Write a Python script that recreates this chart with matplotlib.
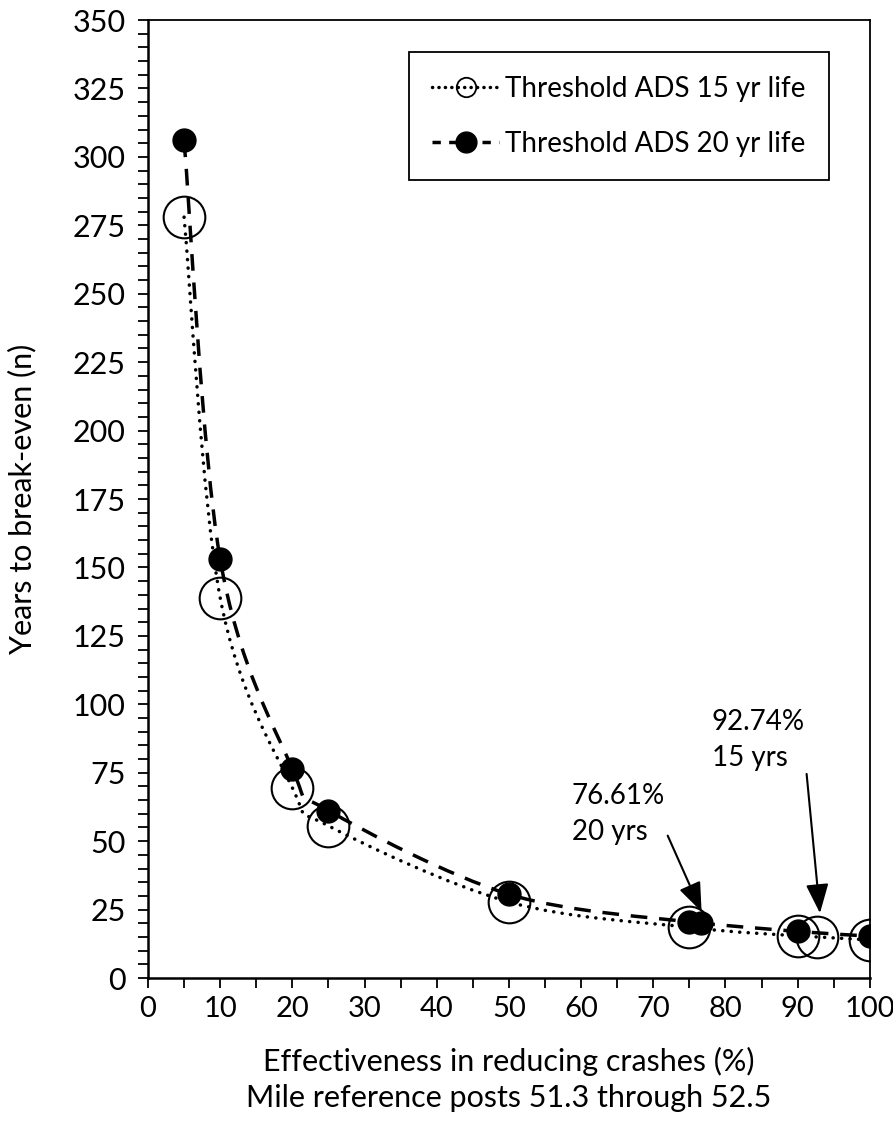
import numpy as np
import matplotlib.pyplot as plt
from matplotlib.path import Path
from matplotlib.patches import PathPatch
from matplotlib.lines import Line2D
from matplotlib.ticker import MultipleLocator

plt.rcParams['font.family'] = ['Lato', 'DejaVu Sans']
plt.rcParams['font.size'] = 22

# data
eff_15 = [5, 10, 20, 25, 50, 75, 90, 92.74, 100]
yrs_15 = [278, 139, 69.5, 55.6, 27.8, 18.5, 15.4, 15.0, 13.9]
eff_20 = [5, 10, 20, 25, 50, 75, 76.61, 90, 100]
yrs_20 = [306, 153, 76.5, 61.2, 30.6, 20.4, 20.0, 17.0, 15.3]

label_15 = 'Threshold ADS 15 yr life'
label_20 = 'Threshold ADS 20 yr life'


def smooth_path(xs, ys):
    """Bezier path through the points, like a spreadsheet smoothed line"""
    p = np.column_stack([xs, ys]).astype(float)
    n = len(p)
    verts = [p[0]]
    codes = [Path.MOVETO]
    for i in range(n - 1):
        p0 = p[i - 1] if i > 0 else p[i]
        p3 = p[i + 2] if i + 2 < n else p[i + 1]
        c1 = p[i] + (p[i + 1] - p0) / 6
        c2 = p[i + 1] - (p3 - p[i]) / 6
        verts += [c1, c2, p[i + 1]]
        codes += [Path.CURVE4] * 3
    return Path(verts, codes)


fig = plt.figure(figsize=(8.93, 11.33), dpi=100)
ax = fig.add_axes([0.1657, 0.1368, 0.8083, 0.8455])

ax.add_patch(PathPatch(smooth_path(eff_15, yrs_15), fill=False, color='black',
                       lw=2.5, ls=(0, (0.05, 2.4)), capstyle='round', zorder=2))
ax.add_patch(PathPatch(smooth_path(eff_20, yrs_20), fill=False, color='black',
                       lw=2.5, ls=(0, (4.8, 3.4)), capstyle='butt', zorder=3))

ax.plot(eff_15, yrs_15, ls='none', marker='o', ms=30, mfc='none', mec='black',
        mew=1.5, zorder=4)
ax.plot(eff_20, yrs_20, ls='none', marker='o', ms=16.5, mfc='black', mec='black',
        zorder=5)

ax.set_xlim(0, 100)
ax.set_ylim(0, 350)
ax.xaxis.set_major_locator(MultipleLocator(10))
ax.xaxis.set_minor_locator(MultipleLocator(5))
ax.yaxis.set_major_locator(MultipleLocator(25))
ax.yaxis.set_minor_locator(MultipleLocator(5))
ax.tick_params(which='both', direction='out', length=7, width=1.3)
ax.tick_params(axis='x', pad=6, labelsize=21)
ax.tick_params(axis='y', pad=9)
for s in ax.spines.values():
    s.set_linewidth(1.3)
ax.spines['left'].set_linewidth(1.8)
ax.spines['bottom'].set_linewidth(1.8)

ax.set_xlabel('Effectiveness in reducing crashes (%)\nMile reference posts 51.3 through 52.5',
              labelpad=18, linespacing=1.35)
ax.set_ylabel('Years to break-even (n)', labelpad=26)

# annotations
arrow = dict(arrowstyle='-|>,head_length=0.9,head_width=0.35', color='black',
             lw=1.5, shrinkA=0, shrinkB=0, relpos=(1.0, 0.25))
ax.annotate('92.74%\n15 yrs', xy=(93.1, 23.7), xytext=(78.1, 87), ha='left', va='center',
            linespacing=1.5, fontsize=20, arrowprops=arrow)
ax.annotate('76.61%\n20 yrs', xy=(76.7, 24.2), xytext=(58.7, 60), ha='left', va='center',
            linespacing=1.5, fontsize=20, arrowprops=arrow)

handles = [
    Line2D([], [], color='black', ls=(0, (0.05, 1.8)), lw=2.5, dash_capstyle='round',
           marker='o', ms=14, mfc='none', mec='black', mew=1.3),
    Line2D([], [], color='black', ls=(0, (2.4, 2.4)), lw=2.5,
           marker='o', ms=15, mfc='black', mec='black'),
]
leg = ax.legend(handles, [label_15, label_20], loc='upper right',
                bbox_to_anchor=(0.943, 0.9666), frameon=True, fancybox=False,
                edgecolor='black', framealpha=1, handlelength=2.4, handletextpad=0.2,
                labelspacing=1.05, borderpad=0.85, borderaxespad=0, fontsize=20)
leg.get_frame().set_linewidth(1.3)

fig.savefig('out.png', dpi=100)
